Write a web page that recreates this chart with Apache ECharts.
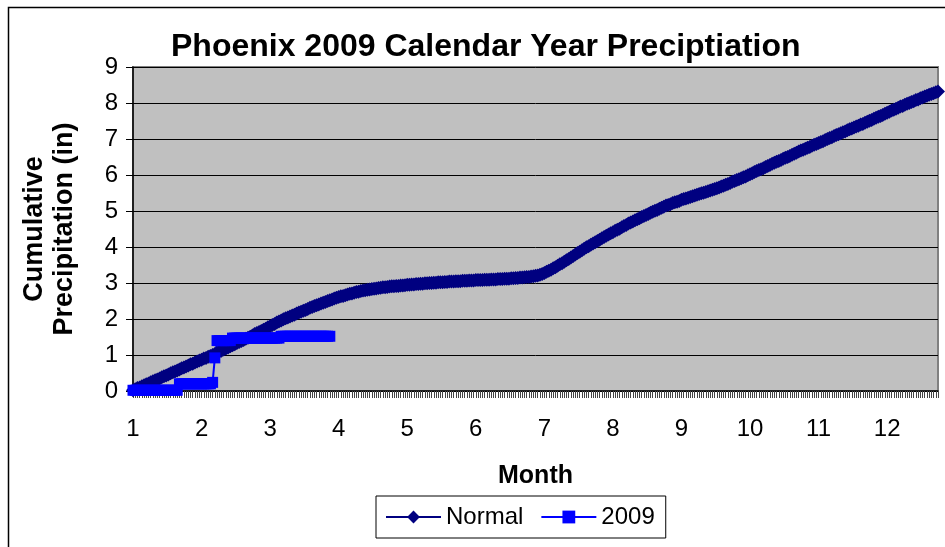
<!DOCTYPE html>
<html>
<head>
<meta charset="utf-8">
<script src="https://cdn.jsdelivr.net/npm/echarts@6/dist/echarts.min.js"></script>
<style>
  html, body { margin: 0; padding: 0; background: #fff; }
  #main { width: 945px; height: 547px; }
</style>
</head>
<body>
<div id="main"></div>
<script>
// days in each month of 2009, x labels are the month numbers
var monthDays = [31, 28, 31, 30, 31, 30, 31, 31, 30, 31, 30, 31];
var monthLabels = [1, 2, 3, 4, 5, 6, 7, 8, 9, 10, 11, 12];

// Normal cumulative precipitation (in), one value per day
var normalJan = [0.02, 0.05, 0.08, 0.10, 0.13, 0.16, 0.19, 0.21, 0.24, 0.27, 0.30, 0.32, 0.35, 0.38, 0.41, 0.43, 0.46, 0.49, 0.52, 0.54, 0.57, 0.60, 0.63, 0.65, 0.68, 0.71, 0.74, 0.76, 0.79, 0.82, 0.85];
var normalFeb = [0.87, 0.90, 0.92, 0.95, 0.97, 1.00, 1.03, 1.06, 1.09, 1.12, 1.15, 1.18, 1.21, 1.24, 1.27, 1.30, 1.33, 1.36, 1.39, 1.42, 1.45, 1.48, 1.51, 1.54, 1.58, 1.61, 1.64, 1.67];
var normalMar = [1.70, 1.73, 1.77, 1.80, 1.83, 1.86, 1.90, 1.93, 1.96, 1.99, 2.02, 2.04, 2.07, 2.10, 2.12, 2.15, 2.18, 2.20, 2.23, 2.25, 2.28, 2.31, 2.33, 2.36, 2.38, 2.40, 2.43, 2.45, 2.47, 2.50, 2.52];
var normalApr = [2.54, 2.57, 2.59, 2.61, 2.63, 2.64, 2.66, 2.68, 2.70, 2.71, 2.73, 2.75, 2.76, 2.78, 2.79, 2.80, 2.81, 2.82, 2.83, 2.84, 2.85, 2.86, 2.87, 2.88, 2.88, 2.89, 2.90, 2.91, 2.91, 2.92];
var normalMay = [2.92, 2.93, 2.93, 2.94, 2.95, 2.95, 2.96, 2.96, 2.97, 2.97, 2.98, 2.98, 2.99, 2.99, 3.00, 3.00, 3.01, 3.01, 3.02, 3.02, 3.02, 3.03, 3.03, 3.04, 3.04, 3.04, 3.05, 3.05, 3.05, 3.06, 3.06];
var normalJun = [3.06, 3.07, 3.07, 3.07, 3.08, 3.08, 3.08, 3.08, 3.09, 3.09, 3.09, 3.10, 3.10, 3.10, 3.11, 3.11, 3.11, 3.12, 3.12, 3.12, 3.13, 3.13, 3.14, 3.14, 3.15, 3.15, 3.16, 3.17, 3.17, 3.18];
var normalJul = [3.19, 3.20, 3.21, 3.23, 3.25, 3.28, 3.31, 3.34, 3.37, 3.41, 3.44, 3.48, 3.52, 3.55, 3.59, 3.63, 3.67, 3.71, 3.75, 3.79, 3.83, 3.87, 3.91, 3.95, 3.99, 4.02, 4.06, 4.10, 4.13, 4.17, 4.20];
var normalAug = [4.24, 4.28, 4.31, 4.35, 4.38, 4.41, 4.45, 4.48, 4.51, 4.55, 4.58, 4.61, 4.65, 4.68, 4.71, 4.74, 4.77, 4.80, 4.83, 4.86, 4.89, 4.92, 4.95, 4.98, 5.01, 5.03, 5.06, 5.09, 5.12, 5.15, 5.17];
var normalSep = [5.19, 5.22, 5.24, 5.26, 5.28, 5.31, 5.33, 5.35, 5.37, 5.39, 5.41, 5.43, 5.45, 5.47, 5.49, 5.51, 5.53, 5.55, 5.57, 5.59, 5.61, 5.63, 5.65, 5.68, 5.70, 5.73, 5.75, 5.78, 5.81, 5.83];
var normalOct = [5.86, 5.88, 5.91, 5.94, 5.96, 5.99, 6.02, 6.05, 6.08, 6.11, 6.14, 6.16, 6.19, 6.22, 6.25, 6.28, 6.31, 6.34, 6.37, 6.39, 6.42, 6.45, 6.48, 6.50, 6.53, 6.56, 6.59, 6.62, 6.65, 6.68, 6.70];
var normalNov = [6.73, 6.76, 6.78, 6.81, 6.84, 6.86, 6.89, 6.92, 6.94, 6.97, 7.00, 7.03, 7.05, 7.08, 7.11, 7.13, 7.16, 7.19, 7.21, 7.24, 7.27, 7.29, 7.32, 7.35, 7.37, 7.40, 7.42, 7.45, 7.48, 7.51];
var normalDec = [7.53, 7.56, 7.59, 7.62, 7.64, 7.67, 7.70, 7.73, 7.76, 7.79, 7.81, 7.84, 7.87, 7.90, 7.92, 7.95, 7.98, 8.00, 8.03, 8.05, 8.08, 8.10, 8.13, 8.15, 8.18, 8.20, 8.23, 8.25, 8.27, 8.30, 8.32];

// 2009 observed cumulative precipitation (in), Jan 1 - Mar 31
var obsJan = [0.02, 0.02, 0.02, 0.02, 0.02, 0.02, 0.02, 0.02, 0.02, 0.02, 0.02, 0.02, 0.02, 0.02, 0.02, 0.02, 0.02, 0.02, 0.02, 0.02, 0.02, 0.20, 0.20, 0.20, 0.20, 0.20, 0.20, 0.20, 0.20, 0.20, 0.20];
var obsFeb = [0.20, 0.20, 0.20, 0.20, 0.20, 0.24, 0.92, 1.40, 1.40, 1.40, 1.40, 1.40, 1.40, 1.40, 1.47, 1.47, 1.47, 1.47, 1.47, 1.47, 1.47, 1.47, 1.47, 1.47, 1.47, 1.47, 1.47, 1.47];
var obsMar = [1.47, 1.47, 1.47, 1.47, 1.47, 1.47, 1.47, 1.47, 1.52, 1.52, 1.52, 1.52, 1.52, 1.52, 1.52, 1.52, 1.52, 1.52, 1.52, 1.52, 1.52, 1.52, 1.52, 1.52, 1.52, 1.52, 1.52, 1.52, 1.52, 1.52, 1.52];

var normalData = [].concat(normalJan, normalFeb, normalMar, normalApr, normalMay, normalJun,
    normalJul, normalAug, normalSep, normalOct, normalNov, normalDec);
var obsData = [].concat(obsJan, obsFeb, obsMar);

// one category per day, labelled with its month
var days = [];
monthDays.forEach(function (n, m) {
    for (var d = 0; d < n; d++) days.push(String(monthLabels[m]));
});

var font = 'Liberation Sans, Arial, sans-serif';

var option = {
    animation: false,
    backgroundColor: '#fff',
    textStyle: { fontFamily: font },
    title: {
        text: 'Phoenix 2009 Calendar Year Preciptiation',
        left: 166,
        top: 26,
        textStyle: {
            fontFamily: font,
            fontSize: 32,
            fontWeight: 'bold',
            color: '#000'
        }
    },
    legend: {
        left: 376,
        top: 496,
        padding: [9, 11, 9, 9],
        borderColor: '#000',
        borderWidth: 1,
        itemWidth: 55,
        itemHeight: 16,
        itemGap: 17,
        textStyle: { fontSize: 24, color: '#000', fontFamily: font },
        data: ['Normal', '2009']
    },
    grid: {
        left: 133,
        right: 7,
        top: 67,
        bottom: 156,
        outerBoundsMode: 'none',
        show: true,
        backgroundColor: '#C0C0C0',
        borderColor: '#808080',
        borderWidth: 2
    },
    xAxis: {
        type: 'category',
        data: days,
        boundaryGap: false,
        name: 'Month',
        nameLocation: 'middle',
        nameGap: 73,
        nameTextStyle: { fontSize: 25, fontWeight: 'bold', color: '#000', fontFamily: font },
        axisLine: { lineStyle: { color: '#000', width: 1.5 } },
        axisTick: { interval: 0, length: 7, lineStyle: { color: '#444' } },
        axisLabel: { interval: 30, margin: 26, fontSize: 24, color: '#000', fontFamily: font },
        splitLine: { show: false }
    },
    yAxis: {
        type: 'value',
        min: 0,
        max: 9,
        interval: 1,
        name: 'Cumulative\nPrecipitation (in)',
        nameLocation: 'middle',
        nameRotate: 90,
        nameGap: 53,
        nameTextStyle: { fontSize: 27, fontWeight: 'bold', color: '#000', fontFamily: font, lineHeight: 30 },
        axisLine: { show: true, lineStyle: { color: '#000', width: 1.5 } },
        axisTick: { show: true, length: 7, lineStyle: { color: '#000' } },
        axisLabel: { margin: 15, fontSize: 24, color: '#000', fontFamily: font },
        splitLine: { lineStyle: { color: '#000', width: 1 } }
    },
    series: [
        {
            name: 'Normal',
            type: 'line',
            data: normalData,
            symbol: 'diamond',
            symbolSize: 14,
            showAllSymbol: true,
            lineStyle: { color: '#000080', width: 2 },
            itemStyle: { color: '#000080' }
        },
        {
            name: '2009',
            type: 'line',
            data: obsData,
            symbol: 'rect',
            symbolSize: 11,
            showAllSymbol: true,
            lineStyle: { color: '#0000FF', width: 2 },
            itemStyle: { color: '#0000FF' }
        }
    ],
    graphic: [
        {
            type: 'rect',
            left: 6,
            top: 5,
            shape: { width: 960, height: 560 },
            style: { fill: null, stroke: '#000', lineWidth: 1.5 },
            silent: true
        }
    ]
};

var chartDom = document.getElementById('main');
var myChart = echarts.init(chartDom);
myChart.setOption(option);
</script>
</body>
</html>
